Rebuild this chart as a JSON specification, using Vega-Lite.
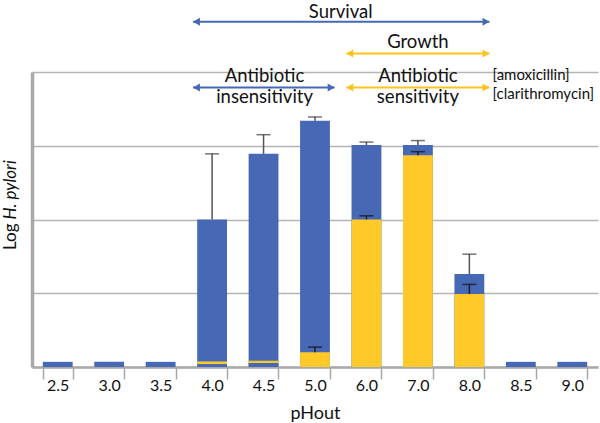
{
  "$schema": "https://vega.github.io/schema/vega-lite/v6.json",
  "width": 566,
  "height": 295,
  "autosize": "none",
  "padding": {"left": 32, "top": 72, "right": 2, "bottom": 56},
  "background": "white",
  "config": {"view": {"stroke": null}, "font": "Lato", "text": {"font": "Lato"}},
  "datasets": {
    "bars": [
      {"pH": "2.5", "surv": 0.07},
      {"pH": "3.0", "surv": 0.07},
      {"pH": "3.5", "surv": 0.07},
      {"pH": "4.0", "surv": 2.0, "surv_hi": 2.89, "growth": 0.075, "floor": 0.04},
      {"pH": "4.5", "surv": 2.89, "surv_hi": 3.15, "growth": 0.085, "floor": 0.055},
      {"pH": "5.0", "surv": 3.34, "surv_hi": 3.39, "growth": 0.2, "growth_hi": 0.27},
      {"pH": "6.0", "surv": 3.01, "surv_hi": 3.05, "growth": 2.0, "growth_hi": 2.05},
      {"pH": "7.0", "surv": 3.01, "surv_hi": 3.07, "growth": 2.87, "growth_hi": 2.92},
      {"pH": "8.0", "surv": 1.26, "surv_hi": 1.53, "growth": 0.99, "growth_hi": 1.12},
      {"pH": "8.5", "surv": 0.07},
      {"pH": "9.0", "surv": 0.07}
    ],
    "arrows": [
      {"label": "Survival", "kind": "survival", "x1": 3.13, "x2": 8.89, "v": 4.68},
      {"label": "Growth", "kind": "growth", "x1": 6.11, "x2": 8.89, "v": 4.25},
      {"label": "Antibiotic insensitivity", "kind": "survival", "x1": 3.13, "x2": 5.88, "v": 3.79},
      {"label": "Antibiotic sensitivity", "kind": "growth", "x1": 6.11, "x2": 8.89, "v": 3.79}
    ],
    "headings": [
      {"text": "Survival", "u": 6.0, "v": 4.735},
      {"text": "Growth", "u": 7.5, "v": 4.32},
      {"text": "Antibiotic", "u": 4.52, "v": 3.87},
      {"text": "insensitivity", "u": 4.52, "v": 3.575},
      {"text": "Antibiotic", "u": 7.5, "v": 3.87},
      {"text": "sensitivity", "u": 7.5, "v": 3.575}
    ],
    "drugs": [
      {"text": "[amoxicillin]", "u": 8.95, "v": 3.89},
      {"text": "[clarithromycin]", "u": 8.95, "v": 3.64}
    ],
    "ytitle_plain": [{"text": "Log", "u": -0.41, "v": 1.586}],
    "ytitle_italic": [{"text": "H. pylori", "u": -0.41, "v": 2.0}]
  },
  "layer": [
    {
      "data": {"name": "bars"},
      "encoding": {
        "x": {
          "field": "pH", "type": "nominal", "sort": null,
          "scale": {"paddingInner": 0.42, "paddingOuter": 0.21},
          "axis": {
            "title": "pHout", "labelAngle": 0, "labelFont": "Lato", "labelFontSize": 16,
            "labelColor": "#111111", "labelPadding": -2,
            "domainColor": "#a9a9a9", "domainWidth": 2.5,
            "tickBand": "extent", "tickColor": "#a9a9a9", "tickWidth": 1.5, "tickSize": 12,
            "titleFont": "Lato", "titleFontSize": 18, "titleFontWeight": "normal",
            "titleColor": "#111111", "titlePadding": 11
          }
        }
      },
      "layer": [
        {
          "mark": {"type": "bar", "color": "#4769b5"},
          "encoding": {
            "y": {
              "field": "surv", "type": "quantitative", "scale": {"domain": [0, 4], "nice": false},
              "axis": {
                "title": null, "values": [0, 1, 2, 3, 4], "labels": false, "ticks": false,
                "grid": true, "gridColor": "#b5b5b5", "gridWidth": 1.5,
                "domainColor": "#a9a9a9", "domainWidth": 3.5
              }
            }
          }
        },
        {
          "mark": {"type": "rule", "color": "#555555", "strokeWidth": 1.5},
          "encoding": {
            "y": {"field": "surv", "type": "quantitative", "scale": {"domain": [0, 4]}},
            "y2": {"field": "surv_hi"}
          }
        },
        {
          "mark": {"type": "tick", "color": "#3a3a3a", "size": 14, "thickness": 1.5},
          "encoding": {
            "y": {"field": "surv_hi", "type": "quantitative", "scale": {"domain": [0, 4]}}
          }
        },
        {
          "mark": {"type": "bar", "color": "#ffc92a"},
          "encoding": {
            "y": {"field": "growth", "type": "quantitative", "scale": {"domain": [0, 4]}}
          }
        },
        {
          "mark": {"type": "rule", "color": "#222222", "strokeWidth": 1.5},
          "encoding": {
            "y": {"field": "growth", "type": "quantitative", "scale": {"domain": [0, 4]}},
            "y2": {"field": "growth_hi"}
          }
        },
        {
          "mark": {"type": "tick", "color": "#111111", "size": 14, "thickness": 1.5},
          "encoding": {
            "y": {"field": "growth_hi", "type": "quantitative", "scale": {"domain": [0, 4]}}
          }
        },
        {
          "mark": {"type": "bar", "color": "#4769b5"},
          "encoding": {
            "y": {"field": "floor", "type": "quantitative", "scale": {"domain": [0, 4]}}
          }
        }
      ]
    },
    {
      "layer": [
        {
          "data": {"name": "arrows"},
          "mark": {"type": "rule", "strokeWidth": 2},
          "encoding": {
            "x": {"field": "x1", "type": "quantitative", "scale": {"domain": [0, 11], "nice": false, "zero": false}, "axis": null},
            "x2": {"field": "x2"},
            "y": {"field": "v", "type": "quantitative", "scale": {"domain": [0, 4]}},
            "color": {"field": "kind", "type": "nominal", "scale": {"domain": ["survival", "growth"], "range": ["#4769b5", "#ffc31f"]}, "legend": null}
          }
        },
        {
          "data": {"name": "arrows"},
          "mark": {"type": "point", "shape": "triangle-left", "filled": true, "size": 64, "opacity": 1, "xOffset": 3.4},
          "encoding": {
            "x": {"field": "x1", "type": "quantitative", "scale": {"domain": [0, 11], "nice": false, "zero": false}, "axis": null},
            "y": {"field": "v", "type": "quantitative", "scale": {"domain": [0, 4]}},
            "color": {"field": "kind", "type": "nominal", "scale": {"domain": ["survival", "growth"], "range": ["#4769b5", "#ffc31f"]}, "legend": null}
          }
        },
        {
          "data": {"name": "arrows"},
          "mark": {"type": "point", "shape": "triangle-right", "filled": true, "size": 64, "opacity": 1, "xOffset": -3.4},
          "encoding": {
            "x": {"field": "x2", "type": "quantitative", "scale": {"domain": [0, 11], "nice": false, "zero": false}, "axis": null},
            "y": {"field": "v", "type": "quantitative", "scale": {"domain": [0, 4]}},
            "color": {"field": "kind", "type": "nominal", "scale": {"domain": ["survival", "growth"], "range": ["#4769b5", "#ffc31f"]}, "legend": null}
          }
        },
        {
          "data": {"name": "headings"},
          "mark": {"type": "text", "font": "Lato", "fontSize": 18.5, "align": "center", "baseline": "alphabetic", "color": "#111111"},
          "encoding": {
            "x": {"field": "u", "type": "quantitative", "scale": {"domain": [0, 11], "nice": false, "zero": false}, "axis": null},
            "y": {"field": "v", "type": "quantitative", "scale": {"domain": [0, 4]}},
            "text": {"field": "text"}
          }
        },
        {
          "data": {"name": "drugs"},
          "mark": {"type": "text", "font": "Lato", "fontSize": 15, "align": "left", "baseline": "alphabetic", "color": "#111111"},
          "encoding": {
            "x": {"field": "u", "type": "quantitative", "scale": {"domain": [0, 11], "nice": false, "zero": false}, "axis": null},
            "y": {"field": "v", "type": "quantitative", "scale": {"domain": [0, 4]}},
            "text": {"field": "text"}
          }
        },
        {
          "data": {"name": "ytitle_plain"},
          "mark": {"type": "text", "font": "Lato", "fontSize": 17, "align": "left", "baseline": "middle", "angle": 270, "color": "#111111"},
          "encoding": {
            "x": {"field": "u", "type": "quantitative", "scale": {"domain": [0, 11], "nice": false, "zero": false}, "axis": null},
            "y": {"field": "v", "type": "quantitative", "scale": {"domain": [0, 4]}},
            "text": {"field": "text"}
          }
        },
        {
          "data": {"name": "ytitle_italic"},
          "mark": {"type": "text", "font": "Lato", "fontSize": 17, "fontStyle": "italic", "align": "left", "baseline": "middle", "angle": 270, "color": "#111111"},
          "encoding": {
            "x": {"field": "u", "type": "quantitative", "scale": {"domain": [0, 11], "nice": false, "zero": false}, "axis": null},
            "y": {"field": "v", "type": "quantitative", "scale": {"domain": [0, 4]}},
            "text": {"field": "text"}
          }
        }
      ]
    }
  ],
  "resolve": {"scale": {"x": "independent"}}
}
